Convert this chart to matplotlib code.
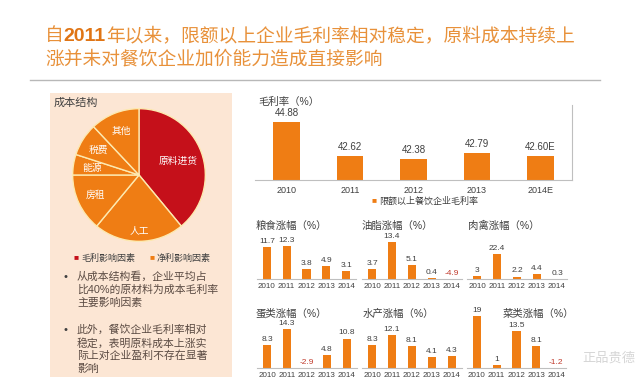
import matplotlib

matplotlib.use("Agg")
import matplotlib.pyplot as plt  # noqa: E402
from matplotlib.patches import Rectangle  # noqa: E402

plt.rcParams["font.family"] = ["Liberation Sans", "Noto Sans CJK SC"]

# données
cost_items = ["原料进货", "人工", "房租", "能源", "税费", "其他"]
cost_share = [39, 22, 14, 5, 8, 12]

margin_years = ["2010", "2011", "2012", "2013", "2014E"]
margin_values = [44.88, 42.62, 42.38, 42.79, 42.60]

small_years = ["2010", "2011", "2012", "2013", "2014"]
small_titles = ["粮食涨幅（%）", "油脂涨幅（%）", "肉禽涨幅（%）",
                "蛋类涨幅（%）", "水产涨幅（%）", "菜类涨幅（%）"]
small_values = [
    [11.7, 12.3, 3.8, 4.9, 3.1],
    [3.7, 13.4, 5.1, 0.4, -4.9],
    [3, 22.4, 2.2, 4.4, 0.3],
    [8.3, 14.3, -2.9, 4.8, 10.8],
    [8.3, 12.1, 8.1, 4.1, 4.3],
    [19, 1, 13.5, 8.1, -1.2],
]

bullets = [
    ["从成本结构看，企业平均占", "比40%的原材料为成本毛利率", "主要影响因素"],
    ["此外，餐饮企业毛利率相对", "稳定，表明原料成本上涨实", "际上对企业盈利不存在显著", "影响"],
]

ORANGE = "#ef7d14"
RED = "#c5101a"
TITLE_C = "#e8913a"
TXT = "#404040"
W, H = 640, 392


def rect(x0, y0, x1, y1):
    return [x0 / W, 1 - y1 / H, (x1 - x0) / W, (y1 - y0) / H]


fig = plt.figure(figsize=(6.4, 3.92), dpi=100)
bg = fig.add_axes([0, 0, 1, 1])
bg.set_xlim(0, W)
bg.set_ylim(H, 0)
bg.axis("off")

# titre en deux lignes
r = fig.canvas.get_renderer()
inv = bg.transData.inverted()
t = bg.text(45, 41, "自", fontsize=13.5, color=TITLE_C, va="baseline")
x_next = inv.transform(t.get_window_extent(r))[1][0]
t = bg.text(x_next, 41, "2011", fontsize=14, color="#e07515", weight="bold", va="baseline")
x_next = inv.transform(t.get_window_extent(r))[1][0]
bg.text(x_next, 41, "年以来，限额以上企业毛利率相对稳定，原料成本持续上",
        fontsize=13.5, color=TITLE_C, va="baseline")
bg.text(45, 65, "涨并未对餐饮企业加价能力造成直接影响", fontsize=13.5, color=TITLE_C, va="baseline")
bg.plot([30, 600], [80, 80], color="#b8b8b8", lw=1)

# panneau gauche
bg.add_patch(Rectangle((50, 93), 182, 284, facecolor="#fce6d4", edgecolor="none"))
bg.text(54, 103, "成本结构", fontsize=8, color=TXT, va="center")
bg.text(74, 258, "■", fontsize=6, color=RED, va="center")
bg.text(81, 258, "毛利影响因素", fontsize=6.5, color=TXT, va="center")
bg.text(150, 258, "■", fontsize=6, color=ORANGE, va="center")
bg.text(157, 258, "净利影响因素", fontsize=6.5, color=TXT, va="center")
y = 277
for block in bullets:
    bg.text(64, y, "•", fontsize=8, color=TXT, va="center")
    for line in block:
        bg.text(77, y, line, fontsize=7.8, color="#5a4a42", va="center")
        y += 13
    y += 14

ax_pie = fig.add_axes(rect(72, 108, 206, 242))
ax_pie.patch.set_visible(False)
colors = [RED] + [ORANGE] * (len(cost_share) - 1)
wedges, texts = ax_pie.pie(cost_share, labels=cost_items, colors=colors, startangle=90,
                           counterclock=False, labeldistance=0.72, radius=1,
                           wedgeprops=dict(edgecolor="#fde9b0", linewidth=1),
                           textprops=dict(color="white", fontsize=7))
for tx in texts:
    tx.set_ha("center")
px, py = texts[0].get_position()
texts[0].set_position((px * 0.88, py * 0.88))
px, py = texts[1].get_position()
texts[1].set_position((px, py * 1.15))
ax_pie.set_xlim(-1.01, 1.01)
ax_pie.set_ylim(-1.01, 1.01)
ax_pie.set_aspect("equal")

# graphique principal
ax = fig.add_axes(rect(255, 105, 572, 180))
ax.patch.set_visible(False)
xs = range(len(margin_years))
ax.bar(xs, margin_values, width=0.42, color=ORANGE)
for i, v in enumerate(margin_values):
    lab = f"{v:.2f}" + ("E" if margin_years[i].endswith("E") else "")
    ax.annotate(lab, (i, v), textcoords="offset points", xytext=(0, 3),
                ha="center", va="bottom", fontsize=7, color=TXT)
ax.set_ylim(41, 46)
ax.set_xlim(-0.5, 4.5)
ax.set_xticks(list(xs), margin_years, fontsize=6.5, color=TXT)
ax.set_yticks([])
ax.tick_params(length=0, pad=4)
for s in ["top", "left"]:
    ax.spines[s].set_visible(False)
for s in ["bottom", "right"]:
    ax.spines[s].set_color("#bfbfbf")
bg.text(258, 102, "毛利率（%）", fontsize=7.5, color=TXT, va="center")
bg.text(372, 201, "■", fontsize=6, color=ORANGE, va="center")
bg.text(379, 201, "限额以上餐饮企业毛利率", fontsize=6.5, color=TXT, va="center")

# petits graphiques : (x0, x1, ligne de base, px par unité, haut de l'axe)
boxes = [(257, 356, 279, 2.7, 14.8), (362, 462, 279, 2.76, 14.5), (467, 567, 279, 1.12, 35.7),
         (257, 357, 368, 2.73, 14.65), (362, 462, 368, 2.73, 14.65), (467, 566, 368, 2.73, 19.5)]
title_pos = [(256, 226), (362, 226), (468, 226), (256, 314), (363, 314), (503, 314)]
for k, vals in enumerate(small_values):
    x0, x1, base, scale, top = boxes[k]
    a = fig.add_axes(rect(x0, base - scale * top, x1, base))
    a.patch.set_visible(False)
    a.bar(range(5), vals, width=0.42, color=ORANGE)
    for i, v in enumerate(vals):
        a.annotate(f"{v:g}", (i, max(v, 0)), textcoords="offset points", xytext=(0, 1.5),
                   ha="center", va="bottom", fontsize=6,
                   color="#c0392b" if v < 0 else TXT, annotation_clip=False)
    a.set_ylim(0, top)
    a.set_xlim(-0.5, 4.5)
    a.set_xticks(range(5), small_years, fontsize=5.8, color=TXT)
    a.set_yticks([])
    a.tick_params(length=0, pad=3)
    for s in ["top", "left", "right"]:
        a.spines[s].set_visible(False)
    a.spines["bottom"].set_color("#bfbfbf")
    tx, ty = title_pos[k]
    bg.text(tx, ty, small_titles[k], fontsize=7.5, color=TXT, va="center")

bg.text(582, 358, "正品贵德", fontsize=9.5, color="#d6d6d6", va="center", zorder=10)

fig.savefig("out.png", dpi=100)
